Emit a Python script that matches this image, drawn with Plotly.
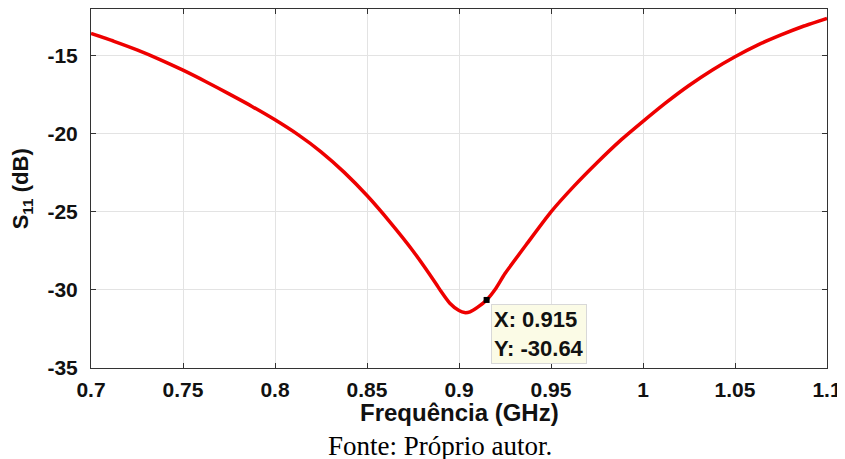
import plotly.graph_objects as go

freq_ghz = [0.700, 0.7125, 0.725, 0.7375, 0.750, 0.7625, 0.775, 0.7875, 0.800, 0.8125,
            0.825, 0.8375, 0.850, 0.8625, 0.875, 0.8875, 0.890, 0.895, 0.900, 0.903,
            0.906, 0.910, 0.915, 0.920, 0.925, 0.9375, 0.950, 0.9625, 0.975, 0.9875,
            1.000, 1.0125, 1.025, 1.0375, 1.050, 1.0625, 1.075, 1.0875, 1.100]
s11_db = [-13.57, -14.07, -14.62, -15.24, -15.92, -16.66, -17.44, -18.24, -19.10, -20.05,
          -21.15, -22.45, -23.95, -25.65, -27.50, -29.60, -30.05, -30.85, -31.32, -31.45,
          -31.40, -31.12, -30.64, -29.90, -28.95, -26.95, -25.00, -23.35, -21.85, -20.45,
          -19.20, -18.00, -16.90, -15.92, -15.06, -14.30, -13.66, -13.09, -12.60]

x_tickvals = [0.7, 0.75, 0.8, 0.85, 0.9, 0.95, 1.0, 1.05, 1.1]
x_ticktext = ["0.7", "0.75", "0.8", "0.85", "0.9", "0.95", "1", "1.05", "1.1"]
y_tickvals = [-35, -30, -25, -20, -15]
y_ticktext = ["-35", "-30", "-25", "-20", "-15"]

tip_x = 0.915
tip_y = -30.64

fig = go.Figure()
fig.add_trace(go.Scatter(
    x=freq_ghz, y=s11_db, mode="lines",
    line=dict(color="#ee0000", width=3.5, shape="spline", smoothing=0.6),
    showlegend=False, hoverinfo="skip"))
fig.add_trace(go.Scatter(
    x=[tip_x], y=[tip_y], mode="markers",
    marker=dict(symbol="square", size=6, color="black"),
    showlegend=False, hoverinfo="skip"))

axis_common = dict(
    showline=True, linecolor="#333333", linewidth=1, mirror="ticks",
    ticks="inside", ticklen=5, tickcolor="#333333",
    showgrid=True, gridcolor="#e3e3e3", gridwidth=1, zeroline=False,
    automargin=False,
    tickfont=dict(family="Liberation Sans, Arial", size=21, color="#111111",
                  weight="bold"),
)

fig.update_xaxes(range=[0.7, 1.1], tickvals=x_tickvals, ticktext=x_ticktext,
                 ticklabelstandoff=3, **axis_common)
fig.update_yaxes(range=[-35, -12], tickvals=y_tickvals, ticktext=y_ticktext,
                 ticklabelstandoff=8, **axis_common)

# axis titles
fig.add_annotation(
    x=0.5, y=-0.125, xref="paper", yref="paper", showarrow=False,
    xanchor="center", yanchor="middle",
    text="<b>Frequência (GHz)</b>",
    font=dict(family="Liberation Sans, Arial", size=24, color="#111111"))
fig.add_annotation(
    x=-0.094, y=0.5, xref="paper", yref="paper", showarrow=False,
    xanchor="center", yanchor="middle", textangle=-90,
    text="<b>S<sub>11</sub> (dB)</b>",
    font=dict(family="Liberation Sans, Arial", size=22, color="#111111"))

# data tip
fig.add_annotation(
    x=tip_x, y=tip_y, xref="x", yref="y", showarrow=False,
    xanchor="left", yanchor="top", xshift=4, yshift=-4,
    text="<b>X: 0.915<br>Y: -30.64</b>", align="left",
    font=dict(family="Liberation Sans, Arial", size=22, color="#111111"),
    bgcolor="#fbfbe6", bordercolor="#d8d8d8", borderwidth=1, borderpad=2)

# source caption
fig.add_annotation(
    x=0.4745, y=-0.217, xref="paper", yref="paper", showarrow=False,
    xanchor="center", yanchor="middle",
    text="Fonte: Próprio autor.",
    font=dict(family="Liberation Serif, Times New Roman", size=27, color="#000000"))

# page body has an 8px default margin: offset the plot area accordingly
fig.update_layout(
    width=845, height=451,
    margin=dict(l=83, r=26, t=1, b=91),
    paper_bgcolor="white", plot_bgcolor="white",
)

fig.write_html("out.html")
